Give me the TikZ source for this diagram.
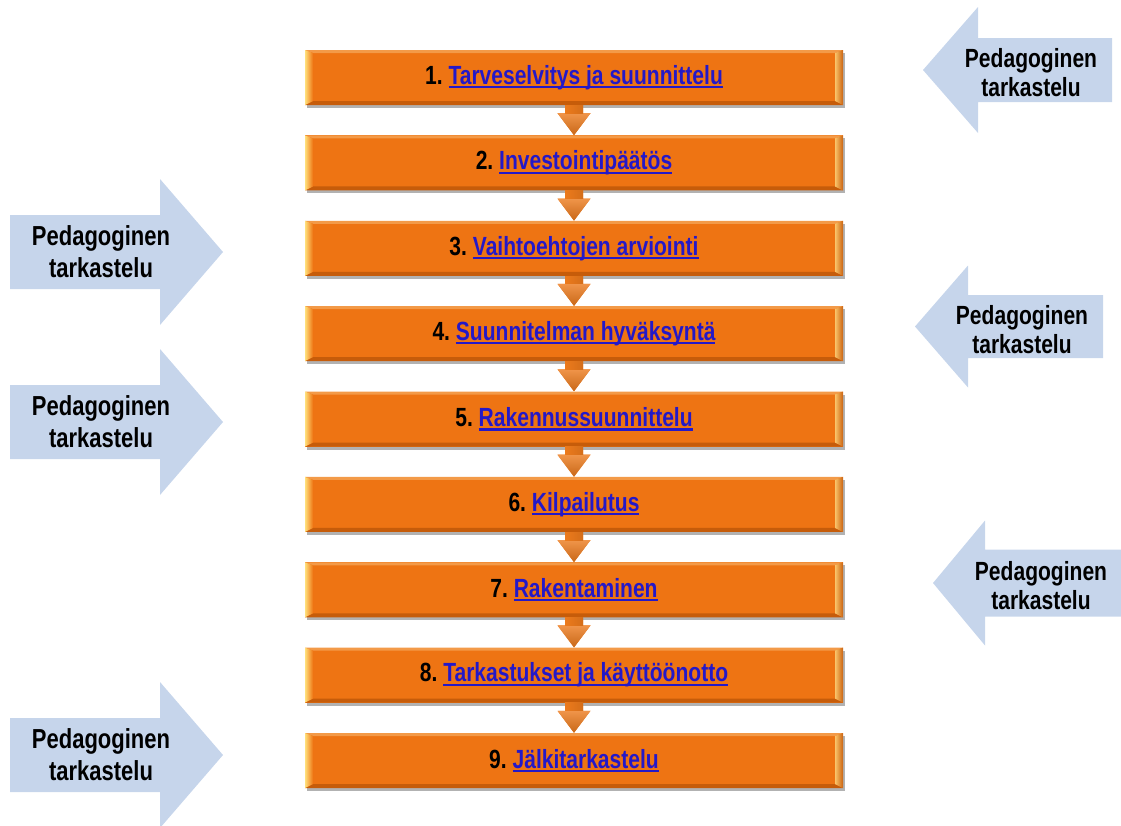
\documentclass[tikz,border=0pt]{standalone}
\usepackage{fontspec}
\setmainfont{Liberation Sans}
\newfontfamily\labelfont[FakeStretch=0.8]{Liberation Sans}
\usetikzlibrary{calc,shadows}

\definecolor{boxface}{HTML}{EE7413}
\definecolor{boxtop}{HTML}{F39A48}
\definecolor{boxbot}{HTML}{C65C0A}
\definecolor{bevlight}{HTML}{FFE07C}
\definecolor{bevright}{HTML}{FAC46A}
\definecolor{arrowface}{HTML}{EC7A1C}
\definecolor{arrowhi}{HTML}{FFD88A}
\definecolor{pedblue}{HTML}{C6D5EB}
\definecolor{linkblue}{HTML}{2418C8}

% underlined link text
\newcommand{\steplink}[1]{\textcolor{linkblue}{\setbox0\hbox{#1}%
  \rlap{\rule[-4pt]{\wd0}{2.2pt}}\box0}}

\tikzset{
  stepbox/.style={
    rectangle, minimum width=538pt, minimum height=55pt, inner sep=0pt,
    fill=boxface,
    drop shadow={shadow xshift=1.5pt, shadow yshift=-3pt, opacity=.3, fill=black},
    font=\labelfont\bfseries\fontsize{26.3}{30}\selectfont,
    path picture={
      \coordinate (ppnw) at (path picture bounding box.north west);
      \coordinate (ppne) at (path picture bounding box.north east);
      \coordinate (ppsw) at (path picture bounding box.south west);
      \coordinate (ppse) at (path picture bounding box.south east);
      % top and bottom bevel faces
      \fill[boxtop] (ppnw) -- (ppne) -- ([shift={(-8pt,-3pt)}]ppne) -- ([shift={(8pt,-3pt)}]ppnw) -- cycle;
      \fill[boxbot] (ppsw) -- (ppse) -- ([shift={(-8pt,4pt)}]ppse) -- ([shift={(8pt,4pt)}]ppsw) -- cycle;
      % side bevel faces catching the light
      \shade[left color=bevlight, right color=boxface]
        (ppnw) -- (ppsw) -- ([shift={(8pt,4pt)}]ppsw) -- ([shift={(8pt,-3pt)}]ppnw) -- cycle;
      \shade[left color=bevright, right color=boxface!85!black]
        (ppne) -- (ppse) -- ([shift={(-8pt,4pt)}]ppse) -- ([shift={(-8pt,-3pt)}]ppne) -- cycle;
    }
  },
  pedarrow/.style={fill=pedblue},
  pedtext/.style={align=center, inner sep=0pt,
    font=\labelfont\bfseries\fontsize{27.5}{32}\selectfont},
  pedtextr/.style={align=center, inner sep=0pt,
    font=\labelfont\bfseries\fontsize{26.3}{29}\selectfont},
}

\begin{document}
\begin{tikzpicture}[x=1pt, y=-1pt]
\useasboundingbox (0,0) rectangle (1121,825);

% process steps
\node[stepbox] (b1) at (574,77.5)  {1.~\steplink{Tarveselvitys ja suunnittelu}};
\node[stepbox] (b2) at (574,162.9) {2.~\steplink{Investointipäätös}};
\node[stepbox] (b3) at (574,248.3) {3.~\steplink{Vaihtoehtojen arviointi}};
\node[stepbox] (b4) at (574,333.6) {4.~\steplink{Suunnitelman hyväksyntä}};
\node[stepbox] (b5) at (574,419)   {5.~\steplink{Rakennussuunnittelu}};
\node[stepbox] (b6) at (574,504.4) {6.~\steplink{Kilpailutus}};
\node[stepbox] (b7) at (574,589.8) {7.~\steplink{Rakentaminen}};
\node[stepbox] (b8) at (574,675.1) {8.~\steplink{Tarkastukset ja käyttöönotto}};
\node[stepbox] (b9) at (574,760.5) {9.~\steplink{Jälkitarkastelu}};

% block arrows linking consecutive steps
\foreach \i/\j in {1/2,2/3,3/4,4/5,5/6,6/7,7/8,8/9} {
  \fill[arrowface] let \p1=(b\i.south), \p2=(b\j.north) in
    (\x1-9pt,\y1) -- (\x1+9pt,\y1) -- (\x1+9pt,\y2+22pt) -- (\x1+16.5pt,\y2+22pt)
    -- (\x1,\y2) -- (\x1-16.5pt,\y2+22pt) -- (\x1-9pt,\y2+22pt) -- cycle;
  \shade[top color=arrowface!80!white, bottom color=arrowface!85!black]
    let \p1=(b\i.south), \p2=(b\j.north) in
    (\x1+16.5pt,\y2+22pt) -- (\x1,\y2) -- (\x1-16.5pt,\y2+22pt) -- cycle;
  \shade[left color=arrowface, middle color=arrowhi, right color=arrowface!90!black]
    let \p1=(b\i.south), \p2=(b\j.north) in
    (\x1-9pt,\y1) rectangle (\x1+9pt,\y2+22pt);
}

% review arrows pointing right, on the left side
\foreach \c/\n in {252/1, 422/2, 755/3} {
  \fill[pedarrow] (10,\c-37) -- (160,\c-37) -- (160,\c-73) -- (223,\c)
    -- (160,\c+73) -- (160,\c+37) -- (10,\c+37) -- cycle;
  \node[pedtext] (pl\n) at (101,\c) {Pedagoginen\\tarkastelu};
}

% review arrows pointing left, on the right side
\foreach \c/\tip/\base/\tail/\hs/\hh/\tx/\n in
    {70/923/978/1112/32/63/1031/1, 326.5/915/968/1103/31.5/61/1022/2,
     583/933/985/1130/33.5/62.5/1041/3} {
  \fill[pedarrow] (\tail,\c-\hs) -- (\base,\c-\hs) -- (\base,\c-\hh) -- (\tip,\c)
    -- (\base,\c+\hh) -- (\base,\c+\hs) -- (\tail,\c+\hs) -- cycle;
  \node[pedtextr] (pr\n) at (\tx,\c+3) {Pedagoginen\\tarkastelu};
}
\end{tikzpicture}
\end{document}
